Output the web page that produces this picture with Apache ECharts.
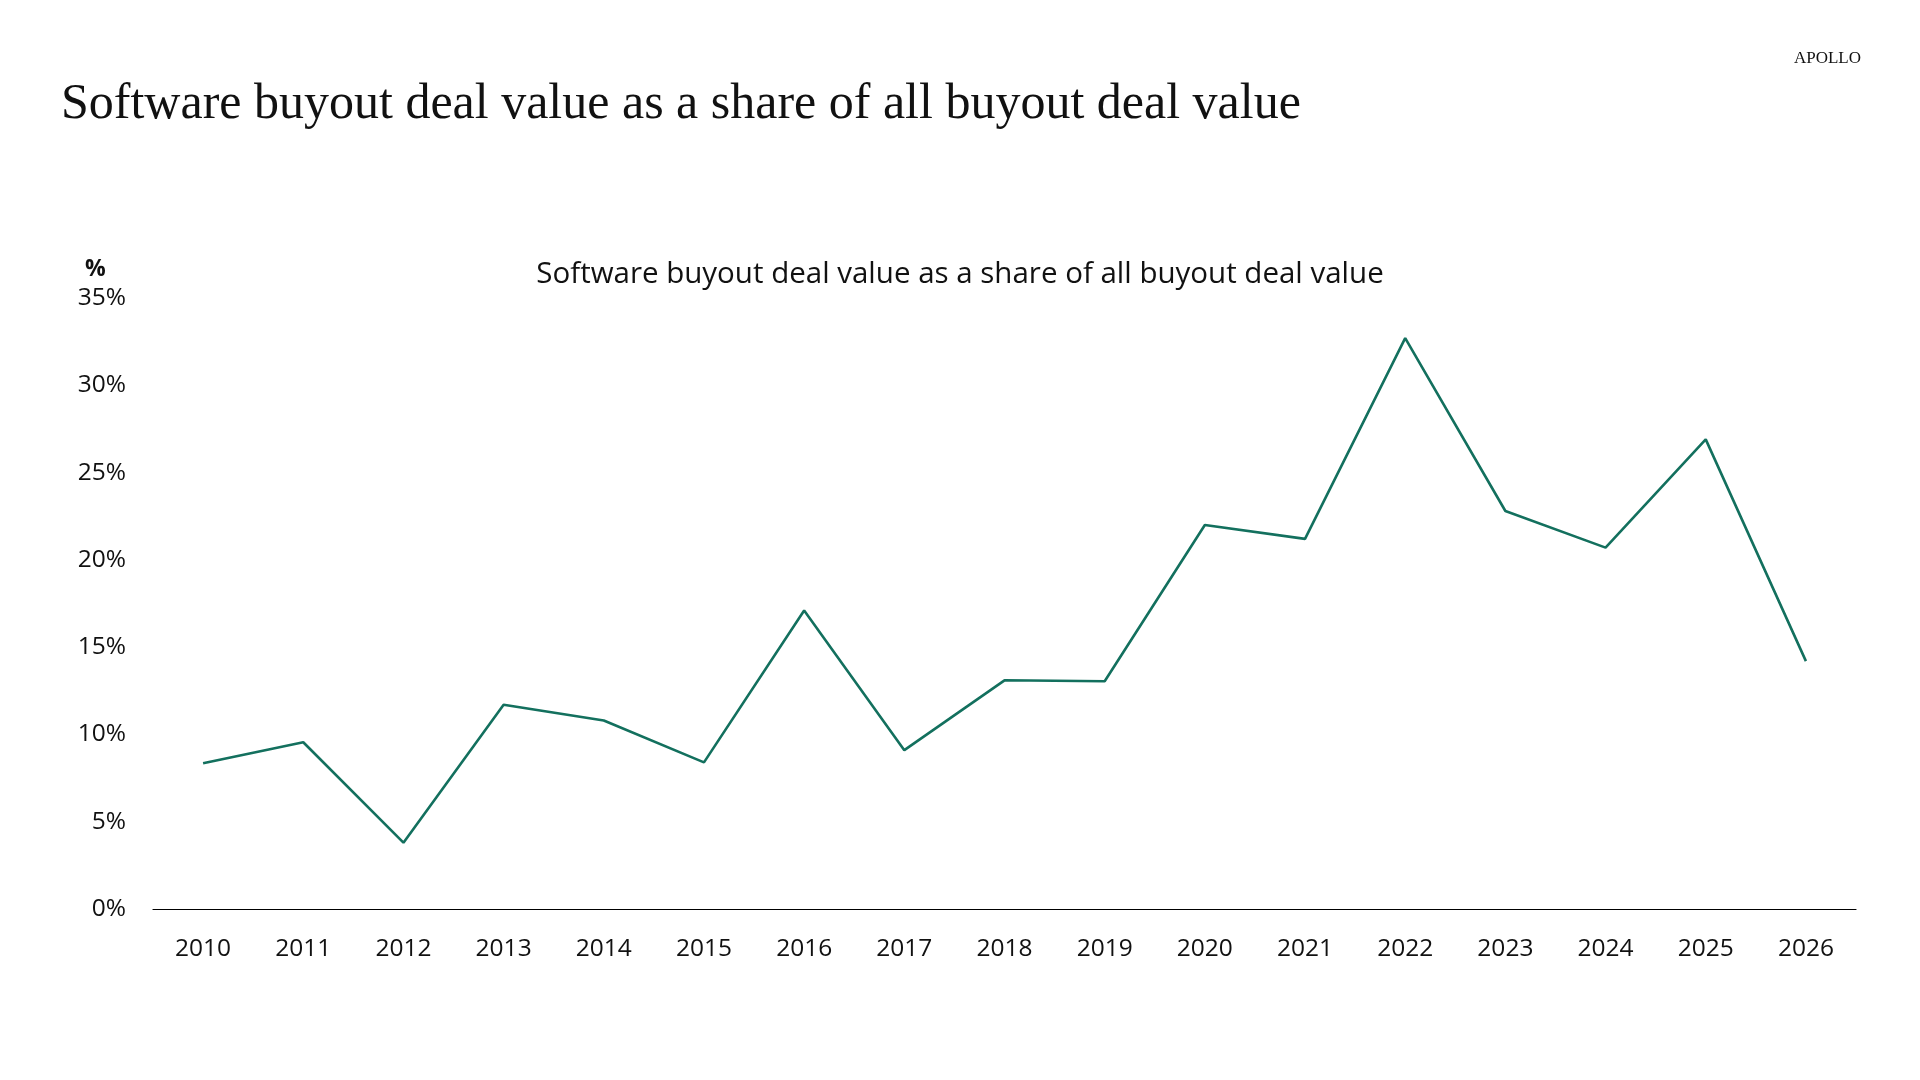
<!DOCTYPE html>
<html>
<head>
<meta charset="utf-8">
<script src="https://cdn.jsdelivr.net/npm/echarts@6/dist/echarts.min.js"></script>
<style>
  html, body { margin: 0; padding: 0; background: #fff; }
  #chart { width: 1920px; height: 1080px; }
</style>
</head>
<body>
<div id="chart"></div>
<script>
const years = ['2010', '2011', '2012', '2013', '2014', '2015', '2016', '2017', '2018',
  '2019', '2020', '2021', '2022', '2023', '2024', '2025', '2026'];
const softwareShare = [8.35, 9.55, 3.8, 11.7, 10.8, 8.4, 17.1, 9.1, 13.1,
  13.05, 22.0, 21.2, 32.7, 22.8, 20.7, 26.9, 14.2];
const yTicks = [0, 5, 10, 15, 20, 25, 30, 35];

const pageTitle = 'Software buyout deal value as a share of all buyout deal value';
const chartTitle = 'Software buyout deal value as a share of all buyout deal value';

const lineColor = '#13705e';
const labelFont = '"Open Sans", "Noto Sans", sans-serif';

const chart = echarts.init(document.getElementById('chart'), null, { renderer: 'canvas' });

chart.setOption({
  animation: false,
  backgroundColor: '#fff',
  title: [
    {
      text: pageTitle,
      left: 56,
      top: 75,
      textStyle: { fontFamily: '"Liberation Serif", "DejaVu Serif", serif', fontWeight: 'normal', fontSize: 50, color: '#111' }
    },
    {
      text: 'APOLLO',
      right: 54,
      top: 45,
      textStyle: { fontFamily: '"Liberation Serif", serif', fontWeight: 'normal', fontSize: 17, color: '#111', letterSpacing: 4 }
    },
    {
      text: chartTitle,
      left: 'center',
      top: 255,
      textStyle: { fontFamily: labelFont, fontWeight: 'normal', fontSize: 29.5, color: '#111' }
    },
    {
      text: '%',
      left: 80,
      top: 253,
      textStyle: { fontFamily: labelFont, fontWeight: 'bold', fontSize: 23, color: '#111' }
    }
  ],
  grid: { left: 153, right: 64, top: 298, bottom: 171, containLabel: false },
  xAxis: {
    type: 'category',
    data: years,
    boundaryGap: true,
    axisLine: { show: true, lineStyle: { color: '#000', width: 1.2 } },
    axisTick: { show: false },
    axisLabel: { fontFamily: labelFont, fontSize: 24.5, color: '#111', margin: 28 },
    splitLine: { show: false }
  },
  yAxis: {
    type: 'value',
    min: yTicks[0],
    max: yTicks[yTicks.length - 1],
    interval: 5,
    axisLine: { show: false },
    axisTick: { show: false },
    splitLine: { show: false },
    axisLabel: { fontFamily: labelFont, fontSize: 24.5, color: '#111', margin: 27, formatter: '{value}%' }
  },
  series: [
    {
      type: 'line',
      data: softwareShare,
      symbol: 'none',
      lineStyle: { color: lineColor, width: 2.6 }
    }
  ]
});
</script>
</body>
</html>
